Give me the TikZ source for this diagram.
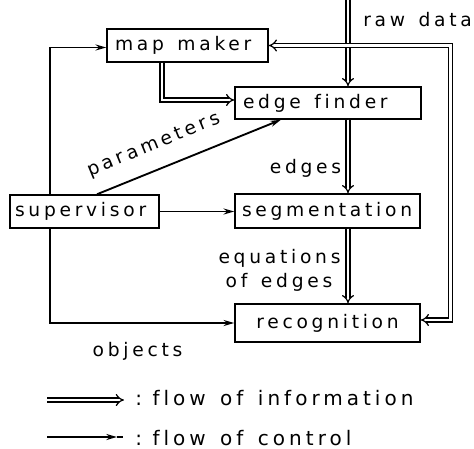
\documentclass[tikz,border=0pt]{standalone}
\usepackage{fontspec}
\setmainfont{DejaVu Sans}[LetterSpace=20, WordSpace=1.4, Ligatures=NoCommon]
\usetikzlibrary{arrows.meta}

\begin{document}
\begin{tikzpicture}[x=0.75pt,y=-0.75pt,
  font=\fontsize{14}{16}\selectfont,
  box/.style={draw, line width=1.1pt, inner ysep=0pt},
  lbl/.style={inner sep=0pt},
  legtext/.style={lbl, anchor=base west, font=\fontsize{15}{17}\selectfont},
  info/.style={double, line width=0.9pt, double distance=2.2pt},
  infohead/.style={-{Implies[length=7pt,width=9pt]}},
  ctrl/.style={line width=1.4pt, -{Stealth[length=8pt,width=4.5pt]}}
]
\useasboundingbox[fill=white] (0,0) rectangle (474,449);

% boxes (text set flush left inside a fixed width)
\node[box, minimum height=24.75pt, inner xsep=6pt]
  (mapmaker) at (187.5,45.5) {\makebox[108.75pt][l]{map maker}};
\node[box, minimum height=24pt, inner xsep=6pt]
  (edgefinder) at (328,103) {\makebox[127.5pt][l]{edge finder}};
\node[box, minimum height=24.75pt, inner xsep=3.75pt]
  (supervisor) at (84.5,211.5) {\makebox[104.25pt][l]{supervisor}};
\node[box, minimum height=25.5pt, inner xsep=5.25pt]
  (segmentation) at (327.5,211) {\makebox[128.25pt][l]{segmentation}};
\node[box, minimum height=28.5pt, inner xsep=0pt]
  (recognition) at (327.5,323) {\makebox[138.75pt][c]{recognition}};

% helper coordinates for the routed connectors
\coordinate (rawtop) at (348,0);
\coordinate (mmdown) at (162,0);
\coordinate (efin) at (0,100);
\coordinate (fbx) at (450.5,0);
\coordinate (fbin) at (0,320);
\coordinate (leftx) at (50,0);
\coordinate (mmin) at (0,47.5);
\coordinate (parfrom) at (97,0);
\coordinate (parto) at (281,0);

% flow of information
\draw[info, infohead] (rawtop) -- (rawtop |- edgefinder.north);
\draw[info, infohead] (rawtop |- edgefinder.south) -- (rawtop |- segmentation.north);
\draw[info, infohead] (rawtop |- segmentation.south) -- (rawtop |- recognition.north);
\draw[info, infohead] (mmdown |- mapmaker.south) |- (edgefinder.west |- efin);
\draw[info, {Implies[length=7pt,width=9pt]}-{Implies[length=7pt,width=9pt]}]
  (mapmaker.east) -- (fbx |- mapmaker.east) -- (fbx |- fbin) -- (recognition.east |- fbin);

% flow of control
\draw[ctrl] (leftx |- supervisor.north) |- (mapmaker.west |- mmin);
\draw[ctrl] (supervisor.east) -- (supervisor.east -| segmentation.west);
\draw[ctrl] (leftx |- supervisor.south) |- (recognition.west);
\draw[ctrl] (parfrom |- supervisor.north) -- (parto |- edgefinder.south);

% labels
\node[lbl, anchor=base west] (rawlbl) at (363,26.5) {raw data};
\node[lbl, anchor=base] (edgeslbl) at (305.5,173) {edges};
\node[lbl, anchor=base] (eqlbl) at (279.5,263) {equations};
\node[lbl, anchor=base] (eqlbl2) at (279,287) {of edges};
\node[lbl, rotate=22.2] (paramlbl) at (154,145) {parameters};
\node[lbl, anchor=base] (objlbl) at (137.5,356.5) {objects};

% legend
\coordinate (lg1a) at (47,400);
\coordinate (lg1b) at (124,400);
\coordinate (lg2a) at (47,437);
\coordinate (lg2m) at (117,437);
\coordinate (lg2b) at (123,437);
\draw[info, -{Implies[length=4pt,width=6pt]}] (lg1a) -- (lg1b);
\draw[ctrl] (lg2a) -- (lg2m);
\draw[line width=1.4pt] (lg2m) -- (lg2b);
\node[legtext] (leg1) at (135,405) {:\kern-3pt\ flow of information};
\node[legtext] (leg2) at (135,445.5) {:\kern-3pt\ flow of control};
\end{tikzpicture}
\end{document}
